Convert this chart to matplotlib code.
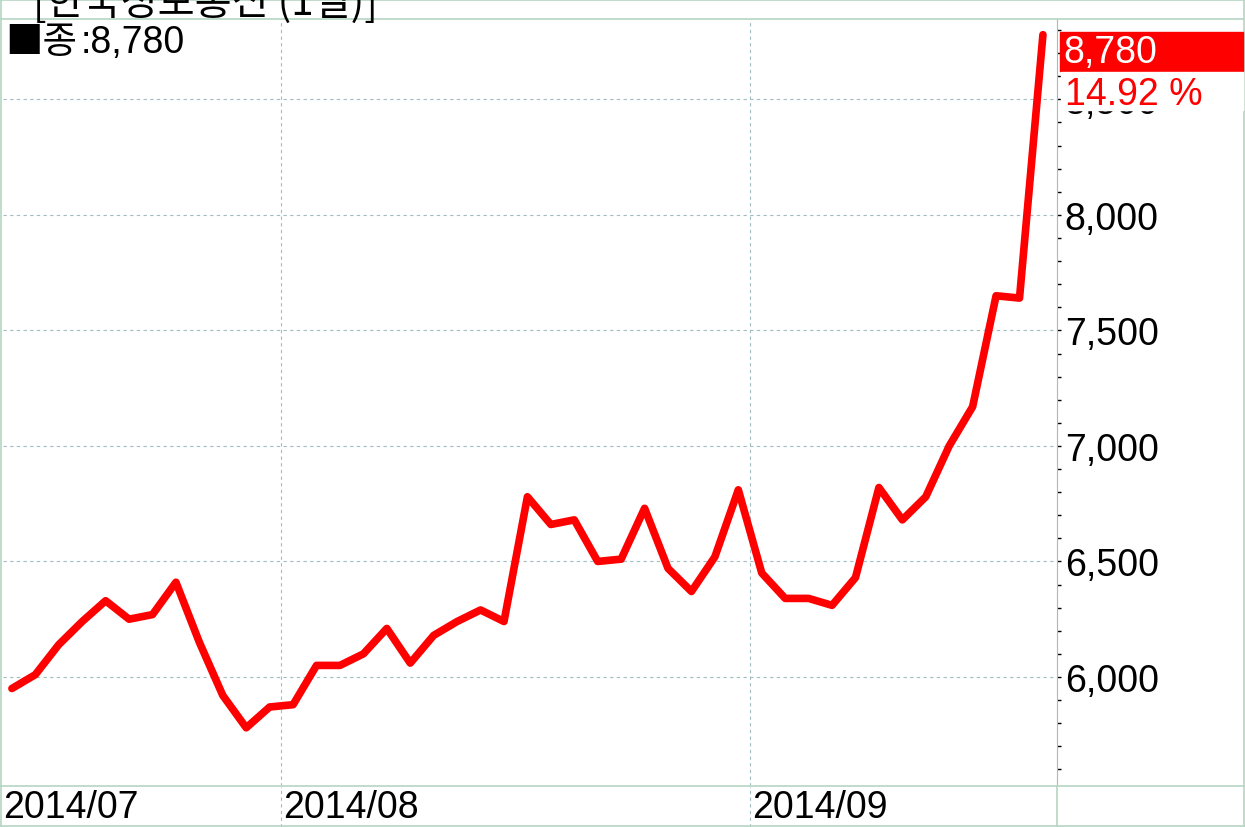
import numpy as np
import pandas as pd
import matplotlib
matplotlib.use("Agg")
import matplotlib.pyplot as plt
from matplotlib.ticker import MultipleLocator, FuncFormatter
from matplotlib.lines import Line2D
from matplotlib.patches import Rectangle

plt.rcParams['font.family'] = ['Liberation Sans', 'Noto Sans CJK KR', 'DejaVu Sans']

# daily closes, 2014-07-16 .. 2014-09-22 (KRX trading days)
holidays = ['2014-08-15', '2014-09-08', '2014-09-09', '2014-09-10']
dates = pd.bdate_range('2014-07-16', '2014-09-22', freq='C', holidays=holidays)
close = [5950, 6010, 6140, 6240, 6330, 6250, 6270, 6410, 6150, 5920,
         5780, 5870, 5880, 6050, 6050, 6100, 6210, 6060, 6180, 6240,
         6290, 6240, 6780, 6660, 6680, 6500, 6510, 6730, 6470, 6370,
         6520, 6810, 6450, 6340, 6340, 6310, 6430, 6820, 6680, 6780,
         7000, 7170, 7650, 7640, 8780]

title = '[한국정보통신 (1일)]'
last = close[-1]
pct = (close[-1] / close[-2] - 1) * 100

W, H = 1245, 828
grid_c = '#a3bcc0'
border_c = '#b5d6c3'
fs = 27

fig = plt.figure(figsize=(W / 100, H / 100), dpi=100)
fig.patch.set_facecolor('white')

# axes box in pixels: x 3..1057, y 20..787
ax = fig.add_axes([3 / W, (H - 787) / H, (1057 - 3) / W, (787 - 20) / H])
x = np.arange(len(close))
ax.plot(x, close, color='#ff0000', lw=5.5, solid_joinstyle='round',
        solid_capstyle='round', zorder=3)

ax.set_xlim(-0.38, 44.6)
ax.set_ylim(5528, 8848)

ax.yaxis.tick_right()
ax.yaxis.set_major_locator(MultipleLocator(500))
ax.yaxis.set_minor_locator(MultipleLocator(100))
ax.yaxis.set_major_formatter(FuncFormatter(lambda v, p: f'{int(v):,}'))
ax.tick_params(axis='y', which='both', direction='out', length=3,
               width=1, color='black', pad=2.5, labelsize=fs)
ax.tick_params(axis='x', bottom=False, labelbottom=False)
ax.grid(axis='y', color=grid_c, ls=(0, (3, 3)), lw=0.8)

for s in ['left', 'top', 'bottom']:
    ax.spines[s].set_visible(False)
ax.spines['right'].set_color(grid_c)

# month boundaries
month_first = [i for i in range(1, len(dates)) if dates[i].month != dates[i - 1].month]
for i in month_first:
    ax.axvline(i - 0.5, color=grid_c, ls=(0, (3, 3)), lw=0.8)

def px_x(v):
    return ax.transData.transform((v, 0))[0] / W

# month labels under the axes
labels = [(0, dates[0].strftime('%Y/%m'))] + \
         [(i, dates[i].strftime('%Y/%m')) for i in month_first]
for i, lab in labels:
    xf = 3 / W if i == 0 else px_x(i - 0.5) + 2 / W
    fig.text(xf, (H - 808) / H, lab, fontsize=fs, va='center', ha='left',
             color='black')
    if i > 0:
        fig.add_artist(Line2D([px_x(i - 0.5)] * 2, [0, (H - 787) / H],
                              color=grid_c, ls=(0, (3, 3)), lw=0.8))

# frame lines
for xs, ys in [([0, 1], [(H - 20) / H] * 2),
               ([0, 1], [(H - 787) / H] * 2),
               ([0, 1], [1 - 1 / H] * 2),
               ([0, 1], [1.5 / H] * 2),
               ([1 / W, 1 / W], [0, 1]),
               ([1 - 1.5 / W] * 2, [0, 1]),
               ([1057 / W] * 2, [0, (H - 787) / H])]:
    fig.add_artist(Line2D(xs, ys, color=border_c, lw=1.2))

# title, clipped by the top edge
fig.text(33 / W, (H - 15) / H, title, fontsize=29, va='baseline', ha='left',
         family=['Noto Sans CJK KR', 'DejaVu Sans'], color='black')

# legend value
fig.text(5 / W, (H - 42) / H, '■종', fontsize=fs, va='center', ha='left',
         family=['Noto Sans CJK KR', 'DejaVu Sans'], color='black')
fig.text(81 / W, (H - 43) / H, f':{last:,}', fontsize=fs, va='center',
         ha='left', color='black')

# last value box
fig.add_artist(Rectangle((1060 / W, (H - 72) / H), 183 / W, 39 / H,
                         transform=fig.transFigure, color='#ff0000', zorder=5))
fig.text(1063 / W, (H - 53) / H, f'{last:,}', fontsize=fs, va='center',
         ha='left', color='white', zorder=6)
fig.add_artist(Rectangle((1061 / W, (H - 111) / H), 182 / W, 38 / H,
                         transform=fig.transFigure, color='white', zorder=5))
fig.text(1065 / W, (H - 95) / H, f'{pct:.2f} %', fontsize=fs, va='center',
         ha='left', color='#ff0000', zorder=6)

fig.savefig('out.png', dpi=100, facecolor='white')
